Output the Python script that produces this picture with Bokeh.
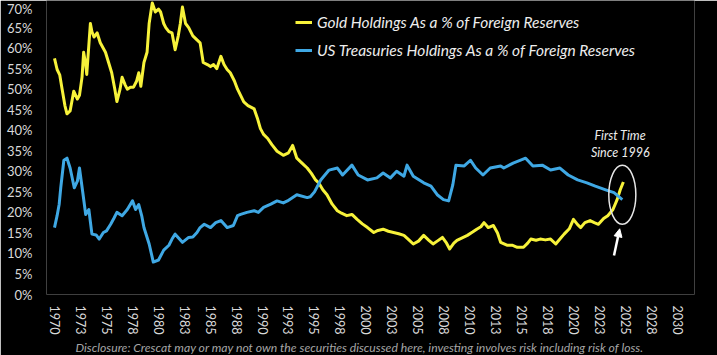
from bokeh.plotting import figure
from bokeh.models import (FixedTicker, Legend, LegendItem, Label, Arrow, NormalHead, Range1d, Title)
from bokeh.embed import file_html
from bokeh.resources import INLINE

# ---------------- data ----------------
gold_years = [1970.0, 1970.25, 1970.5, 1970.7, 1971.0, 1971.2, 1971.5, 1971.85, 1972.2, 1972.4,
              1972.65, 1972.8, 1973.0, 1973.1, 1973.45, 1973.6, 1973.8, 1974.1, 1974.4, 1974.9,
              1975.2, 1975.5, 1975.8, 1976.0, 1976.3, 1976.5, 1976.8, 1977.0, 1977.3, 1977.6,
              1977.9, 1978.1, 1978.3, 1978.6, 1978.9, 1979.1, 1979.4, 1979.7, 1980.0, 1980.2,
              1980.5, 1980.7, 1981.0, 1981.3, 1981.6, 1981.9, 1982.1, 1982.3, 1982.6, 1982.9,
              1983.3, 1983.7, 1984.0, 1984.3, 1984.7, 1985.0, 1985.3, 1985.6, 1986.0, 1986.3,
              1986.6, 1986.9, 1987.3, 1987.6, 1988.2, 1988.6, 1989.2, 1989.5, 1989.8, 1990.1,
              1990.5, 1990.9, 1991.4, 1992.0, 1992.5, 1992.9, 1993.3, 1993.8, 1994.3, 1994.7,
              1995.1, 1995.4, 1995.8, 1996.2, 1996.7, 1997.2, 1997.6, 1998.1, 1998.6, 1999.1,
              1999.6, 2000.1, 2000.7, 2001.1, 2001.6, 2002.1, 2002.6, 2003.1, 2003.6, 2004.0,
              2004.5, 2005.0, 2005.5, 2006.0, 2006.4, 2006.8, 2007.3, 2007.7, 2008.0, 2008.4,
              2008.7, 2009.2, 2009.7, 2010.2, 2010.6, 2011.0, 2011.3, 2011.7, 2012.2, 2012.6,
              2012.9, 2013.5, 2014.0, 2014.5, 2015.1, 2015.5, 2015.8, 2016.3, 2016.7, 2017.2,
              2017.7, 2018.2, 2018.6, 2019.0, 2019.5, 2019.9, 2020.3, 2020.6, 2021.0, 2021.5,
              2021.9, 2022.3, 2022.8, 2023.2, 2023.7, 2024.1, 2024.4, 2024.7]
gold_pct = [57.5, 54.8, 53.5, 50.5, 46.0, 44.0, 44.7, 49.5, 47.6, 48.5,
            53.0, 59.0, 56.0, 53.6, 66.0, 64.0, 62.7, 63.7, 61.3, 59.0,
            56.5, 54.0, 50.0, 47.0, 50.0, 52.9, 51.0, 50.0, 50.5, 50.5,
            52.0, 54.0, 50.7, 56.5, 59.0, 66.0, 71.0, 68.8, 69.5, 68.8,
            66.0, 65.0, 64.0, 63.7, 59.6, 63.0, 66.0, 70.0, 66.0, 65.0,
            63.0, 62.0, 61.3, 56.5, 56.0, 55.5, 56.0, 55.0, 58.0, 56.0,
            54.8, 54.0, 52.0, 50.0, 46.9, 46.0, 45.2, 43.0, 40.4, 39.0,
            38.0, 36.5, 34.9, 33.9, 34.5, 36.3, 33.2, 32.0, 30.8, 29.5,
            27.9, 27.2, 25.5, 24.3, 22.0, 20.4, 19.8, 19.2, 19.5, 18.3,
            17.2, 16.3, 15.1, 15.6, 15.9, 15.4, 15.1, 14.8, 14.4, 13.5,
            12.3, 13.0, 14.4, 13.2, 12.3, 13.0, 13.9, 12.5, 11.1, 12.5,
            13.2, 13.8, 14.4, 15.2, 15.9, 16.5, 17.5, 16.3, 16.8, 15.0,
            12.7, 12.0, 12.0, 11.5, 11.5, 12.5, 13.5, 13.2, 13.5, 13.3,
            13.5, 12.3, 13.5, 14.7, 16.0, 18.3, 17.0, 16.3, 17.5, 18.0,
            17.5, 17.1, 18.5, 19.2, 20.7, 23.1, 25.5, 27.4]

ust_years = [1970.0, 1970.25, 1970.45, 1970.6, 1970.9, 1971.2, 1971.5, 1971.9, 1972.2, 1972.4,
             1972.7, 1973.0, 1973.3, 1973.6, 1974.0, 1974.3, 1974.7, 1975.0, 1975.4, 1975.7,
             1976.0, 1976.5, 1977.0, 1977.5, 1977.8, 1978.1, 1978.4, 1978.6, 1979.1, 1979.5,
             1980.0, 1980.5, 1981.0, 1981.3, 1981.6, 1982.3, 1982.9, 1983.3, 1983.7, 1984.0,
             1984.4, 1985.0, 1985.5, 1986.0, 1986.6, 1987.2, 1987.6, 1987.9, 1988.5, 1989.2,
             1989.6, 1990.1, 1990.8, 1991.4, 1992.0, 1992.4, 1993.3, 1994.3, 1994.6, 1995.0,
             1995.6, 1996.4, 1997.2, 1997.7, 1998.6, 1999.2, 2000.1, 2001.0, 2001.6, 2002.3,
             2002.9, 2003.6, 2003.9, 2004.5, 2005.5, 2006.2, 2006.8, 2007.4, 2007.9, 2008.3,
             2008.6, 2009.4, 2010.0, 2010.5, 2011.2, 2011.9, 2012.9, 2013.2, 2014.1, 2015.3,
             2016.0, 2016.9, 2017.7, 2018.6, 2019.4, 2020.3, 2021.2, 2022.0, 2023.0, 2023.8,
             2024.6]
ust_pct = [16.3, 19.2, 22.0, 26.0, 32.7, 33.2, 30.8, 26.0, 27.6, 30.8,
           25.2, 19.5, 20.7, 14.7, 14.5, 13.5, 15.1, 15.5, 17.1, 18.5,
           20.0, 19.2, 20.7, 22.8, 20.7, 21.9, 19.0, 16.3, 12.3, 7.9,
           8.4, 10.8, 12.0, 13.5, 14.7, 12.7, 13.9, 14.0, 15.1, 16.3,
           17.1, 16.3, 17.5, 18.0, 16.3, 16.8, 19.2, 19.5, 20.0, 20.4,
           20.0, 21.2, 22.0, 22.8, 22.3, 22.8, 24.3, 23.6, 23.8, 25.0,
           27.9, 30.3, 30.8, 29.1, 31.5, 29.1, 27.9, 28.4, 29.6, 28.4,
           30.0, 28.8, 31.5, 28.8, 27.2, 26.4, 24.3, 23.1, 22.8, 26.7,
           31.5, 31.3, 32.7, 30.8, 29.1, 30.8, 31.3, 30.8, 32.0, 33.2,
           31.3, 31.5, 30.3, 30.8, 29.1, 27.9, 27.2, 26.4, 25.5, 24.8,
           23.1]

series_labels = ["Gold Holdings As a % of Foreign Reserves",
                 "US Treasuries Holdings As a % of Foreign Reserves"]

x_tick_values = [1970 + 2.5 * i for i in range(25)]
x_tick_labels = ["1970", "1973", "1975", "1978", "1980", "1983", "1985", "1988", "1990",
                 "1993", "1995", "1998", "2000", "2003", "2005", "2008", "2010", "2013",
                 "2015", "2018", "2020", "2023", "2025", "2028", "2030"]
y_tick_values = list(range(0, 75, 5))
y_tick_labels = ["0%", "5%", "10%", "15%", "20%", "25%", "30%", "35%", "40%", "45%",
                 "50%", "55%", "60%", "65%", "70%"]

annot_lines = ["First Time", "Since 1996"]
disclosure = ("Disclosure: Crescat may or may not own the securities discussed here, "
              "investing involves risk including risk of loss.")

# ---------------- styling ----------------
GOLD = "#F7F23A"
BLUE = "#3FA8E4"
TXT = "#D9D9D9"
FONT = "Lato"

p = figure(width=717, height=355, output_backend="svg", toolbar_location=None,
           x_range=Range1d(1969.23, 2031.54), y_range=Range1d(0, 71.6),
           min_border_left=46, min_border_right=23, min_border_top=0, min_border_bottom=57)
p.background_fill_color = "black"
p.border_fill_color = "black"
p.outline_line_color = None
p.xgrid.visible = False
p.ygrid.visible = False

r_gold = p.line(gold_years, gold_pct, line_color=GOLD, line_width=3, line_join="round")
r_ust = p.line(ust_years, ust_pct, line_color=BLUE, line_width=3, line_join="round")

# axes
p.xaxis.ticker = FixedTicker(ticks=x_tick_values)
p.xaxis.major_label_overrides = {v: l for v, l in zip(x_tick_values, x_tick_labels)}
p.xaxis.major_label_orientation = "vertical"
p.yaxis.ticker = FixedTicker(ticks=y_tick_values)
p.yaxis.major_label_overrides = {v: l for v, l in zip(y_tick_values, y_tick_labels)}
for ax in (p.xaxis, p.yaxis):
    ax.axis_line_color = None
    ax.major_tick_line_color = None
    ax.minor_tick_line_color = None
    ax.major_label_text_color = TXT
    ax.major_label_text_font = FONT
p.xaxis.major_label_text_font_size = "12.5px"
p.yaxis.major_label_text_font_size = "13px"
p.xaxis.major_label_standoff = 5
p.yaxis.major_label_standoff = 8

# legend
legend = Legend(items=[LegendItem(label=series_labels[0], renderers=[r_gold]),
                       LegendItem(label=series_labels[1], renderers=[r_ust])],
                location=(249, 234), orientation="vertical",
                background_fill_alpha=0, border_line_color=None,
                padding=0, margin=0, spacing=8,
                glyph_width=17, glyph_height=20, label_height=20, label_standoff=5,
                label_text_color="#EDEDED", label_text_font=FONT,
                label_text_font_style="italic", label_text_font_size="15.5px")
p.add_layout(legend)

# annotation
ell_x, ell_y, ell_w, ell_h = 2024.6, 24.3, 2.6, 14.4
p.ellipse(x=ell_x, y=ell_y, width=ell_w, height=ell_h, fill_color=None,
          line_color="#E6E6E6", line_width=1.5)
p.add_layout(Arrow(end=NormalHead(size=8, fill_color="white", line_color="white"),
                   x_start=2023.8, y_start=9.5, x_end=2024.35, y_end=16.0,
                   line_color="white", line_width=2.5))
for txt, yy in zip(annot_lines, [38.8, 34.7]):
    p.add_layout(Label(x=2024.4, y=yy, text=txt, text_align="center", text_baseline="middle",
                       text_color="#EDEDED", text_font=FONT, text_font_style="italic",
                       text_font_size="12.5px"))

p.add_layout(Title(text=disclosure, align="left", offset=29, standoff=1,
                   text_color="#A6A6A6", text_font=FONT, text_font_style="italic",
                   text_font_size="12.2px"), "below")

open("out.html", "w").write(file_html(p, INLINE))
